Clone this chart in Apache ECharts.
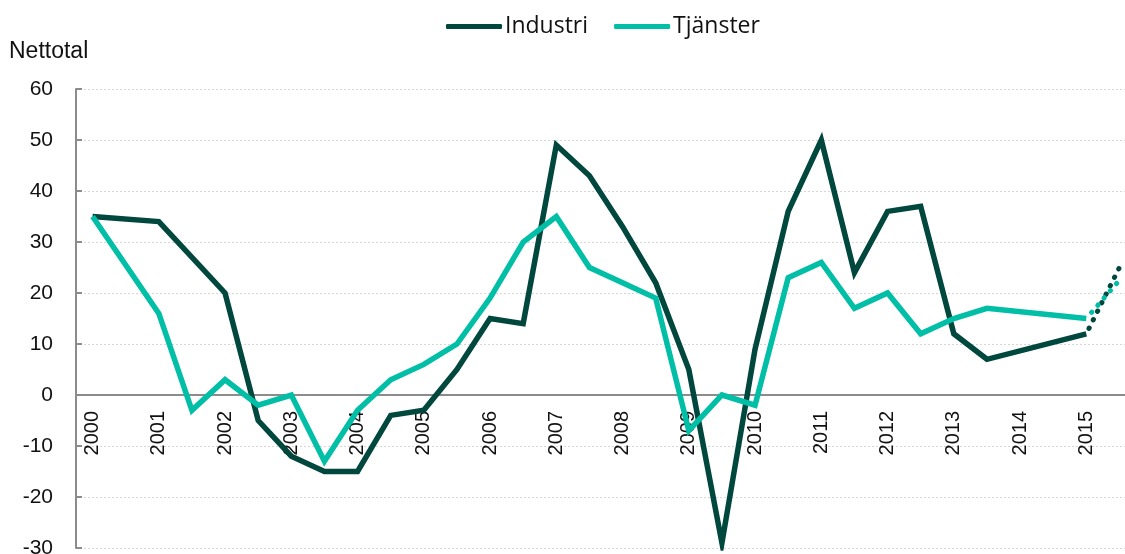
<!DOCTYPE html>
<html>
<head>
<meta charset="utf-8">
<title>Nettotal</title>
<script src="https://cdn.jsdelivr.net/npm/echarts@6/dist/echarts.min.js"></script>
<style>
	html,body{margin:0;padding:0;background:#fff;}
	#chart{width:1125px;height:554px;}
</style>
</head>
<body>
<div id="chart"></div>
<script>
// år på axeln, två observationer per år (halvår)
var years = ['2000','2001','2002','2003','2004','2005','2006','2007','2008','2009','2010','2011','2012','2013','2014','2015'];

var industri = [35,null, 34,null, 20,-5, -12,-15, -15,-4, -3,5, 15,14, 49,43, 33,22, 5,-29, 9,36, 50,24, 36,37, 12,7, null,null, 12,null];
var tjanster = [35,null, 16,-3, 3,-2, 0,-13, -3,3, 6,10, 19,30, 35,25, 22,19, -7,0, -2,23, 26,17, 20,12, 15,17, null,null, 15,null];

// prognos (prickad)
var industri_prognos = [null,null,null,null,null,null,null,null,null,null,null,null,null,null,null,null,null,null,null,null,null,null,null,null,null,null,null,null,null,null, 12,25];
var tjanster_prognos = [null,null,null,null,null,null,null,null,null,null,null,null,null,null,null,null,null,null,null,null,null,null,null,null,null,null,null,null,null,null, 15,22.5];

var categories = [];
for (var i = 0; i < years.length; i++) {
	categories.push(years[i]);
	categories.push(years[i] + ' H2');
}

var c_ind = '#00473d';
var c_tja = '#00bfa6';

var grid_top = 89, grid_bottom = 6, y_min = -30, y_max = 60;
// x-axeln ligger vid noll, flytta den dit från gridens underkant
var plot_h = 554 - grid_top - grid_bottom;
var zero_offset = -Math.round(plot_h * (0 - y_min) / (y_max - y_min));

var chart = echarts.init(document.getElementById('chart'));

var option = {
	animation: false,
	title: {
		text: 'Nettotal',
		left: 4,
		top: 35,
		textStyle: {fontFamily: 'Liberation Sans', fontSize: 23, fontWeight: 'normal', color: '#111'}
	},
	legend: {
		data: ['Industri','Tjänster'],
		left: 441,
		top: 10,
		icon: 'roundRect',
		itemWidth: 56,
		itemHeight: 5,
		itemGap: 26,
		textStyle: {fontFamily: 'Open Sans', fontSize: 23, color: '#111', padding: [0,0,0,-2]}
	},
	grid: {left: 76, top: grid_top, right: -11, bottom: grid_bottom, containLabel: false, outerBoundsMode: 'none'},
	xAxis: {
		type: 'category',
		data: categories,
		boundaryGap: true,
		offset: zero_offset,
		axisLine: {onZero: false, lineStyle: {color: '#8c8c8c', width: 2}},
		axisTick: {inside: true, length: 6, interval: 1, lineStyle: {color: '#8c8c8c', width: 2}},
		axisLabel: {
			interval: 1,
			rotate: 90,
			margin: 16,
			fontFamily: 'Liberation Sans',
			fontSize: 20,
			color: '#111',
			formatter: function(v){ return v.slice(0,4); }
		},
		splitLine: {show: false}
	},
	yAxis: {
		type: 'value',
		min: y_min,
		max: y_max,
		interval: 10,
		axisLine: {show: true, lineStyle: {color: '#8c8c8c', width: 2}},
		axisTick: {show: true, inside: true, length: 6, lineStyle: {color: '#8c8c8c', width: 2}},
		axisLabel: {margin: 23, fontFamily: 'Liberation Sans', fontSize: 21, color: '#111'},
		splitLine: {lineStyle: {color: '#d6d6d6', width: 1, type: [2,2]}}
	},
	series: [
		{
			name: 'Industri',
			type: 'line',
			data: industri,
			connectNulls: true,
			showSymbol: false,
			symbol: 'none',
			itemStyle: {color: c_ind},
			lineStyle: {color: c_ind, width: 5.5, join: 'miter'}
		},
		{
			name: 'Tjänster',
			type: 'line',
			data: tjanster,
			connectNulls: true,
			showSymbol: false,
			symbol: 'none',
			itemStyle: {color: c_tja},
			lineStyle: {color: c_tja, width: 5.5, join: 'miter'}
		},
		{
			name: 'Industri prognos',
			type: 'line',
			data: industri_prognos,
			showSymbol: false,
			symbol: 'none',
			lineStyle: {color: c_ind, width: 5, type: [0.5,9], dashOffset: -6, cap: 'round'}
		},
		{
			name: 'Tjänster prognos',
			type: 'line',
			data: tjanster_prognos,
			showSymbol: false,
			symbol: 'none',
			lineStyle: {color: c_tja, width: 5, type: [0.5,9], dashOffset: -8, cap: 'round'}
		}
	]
};

chart.setOption(option);
</script>
</body>
</html>
